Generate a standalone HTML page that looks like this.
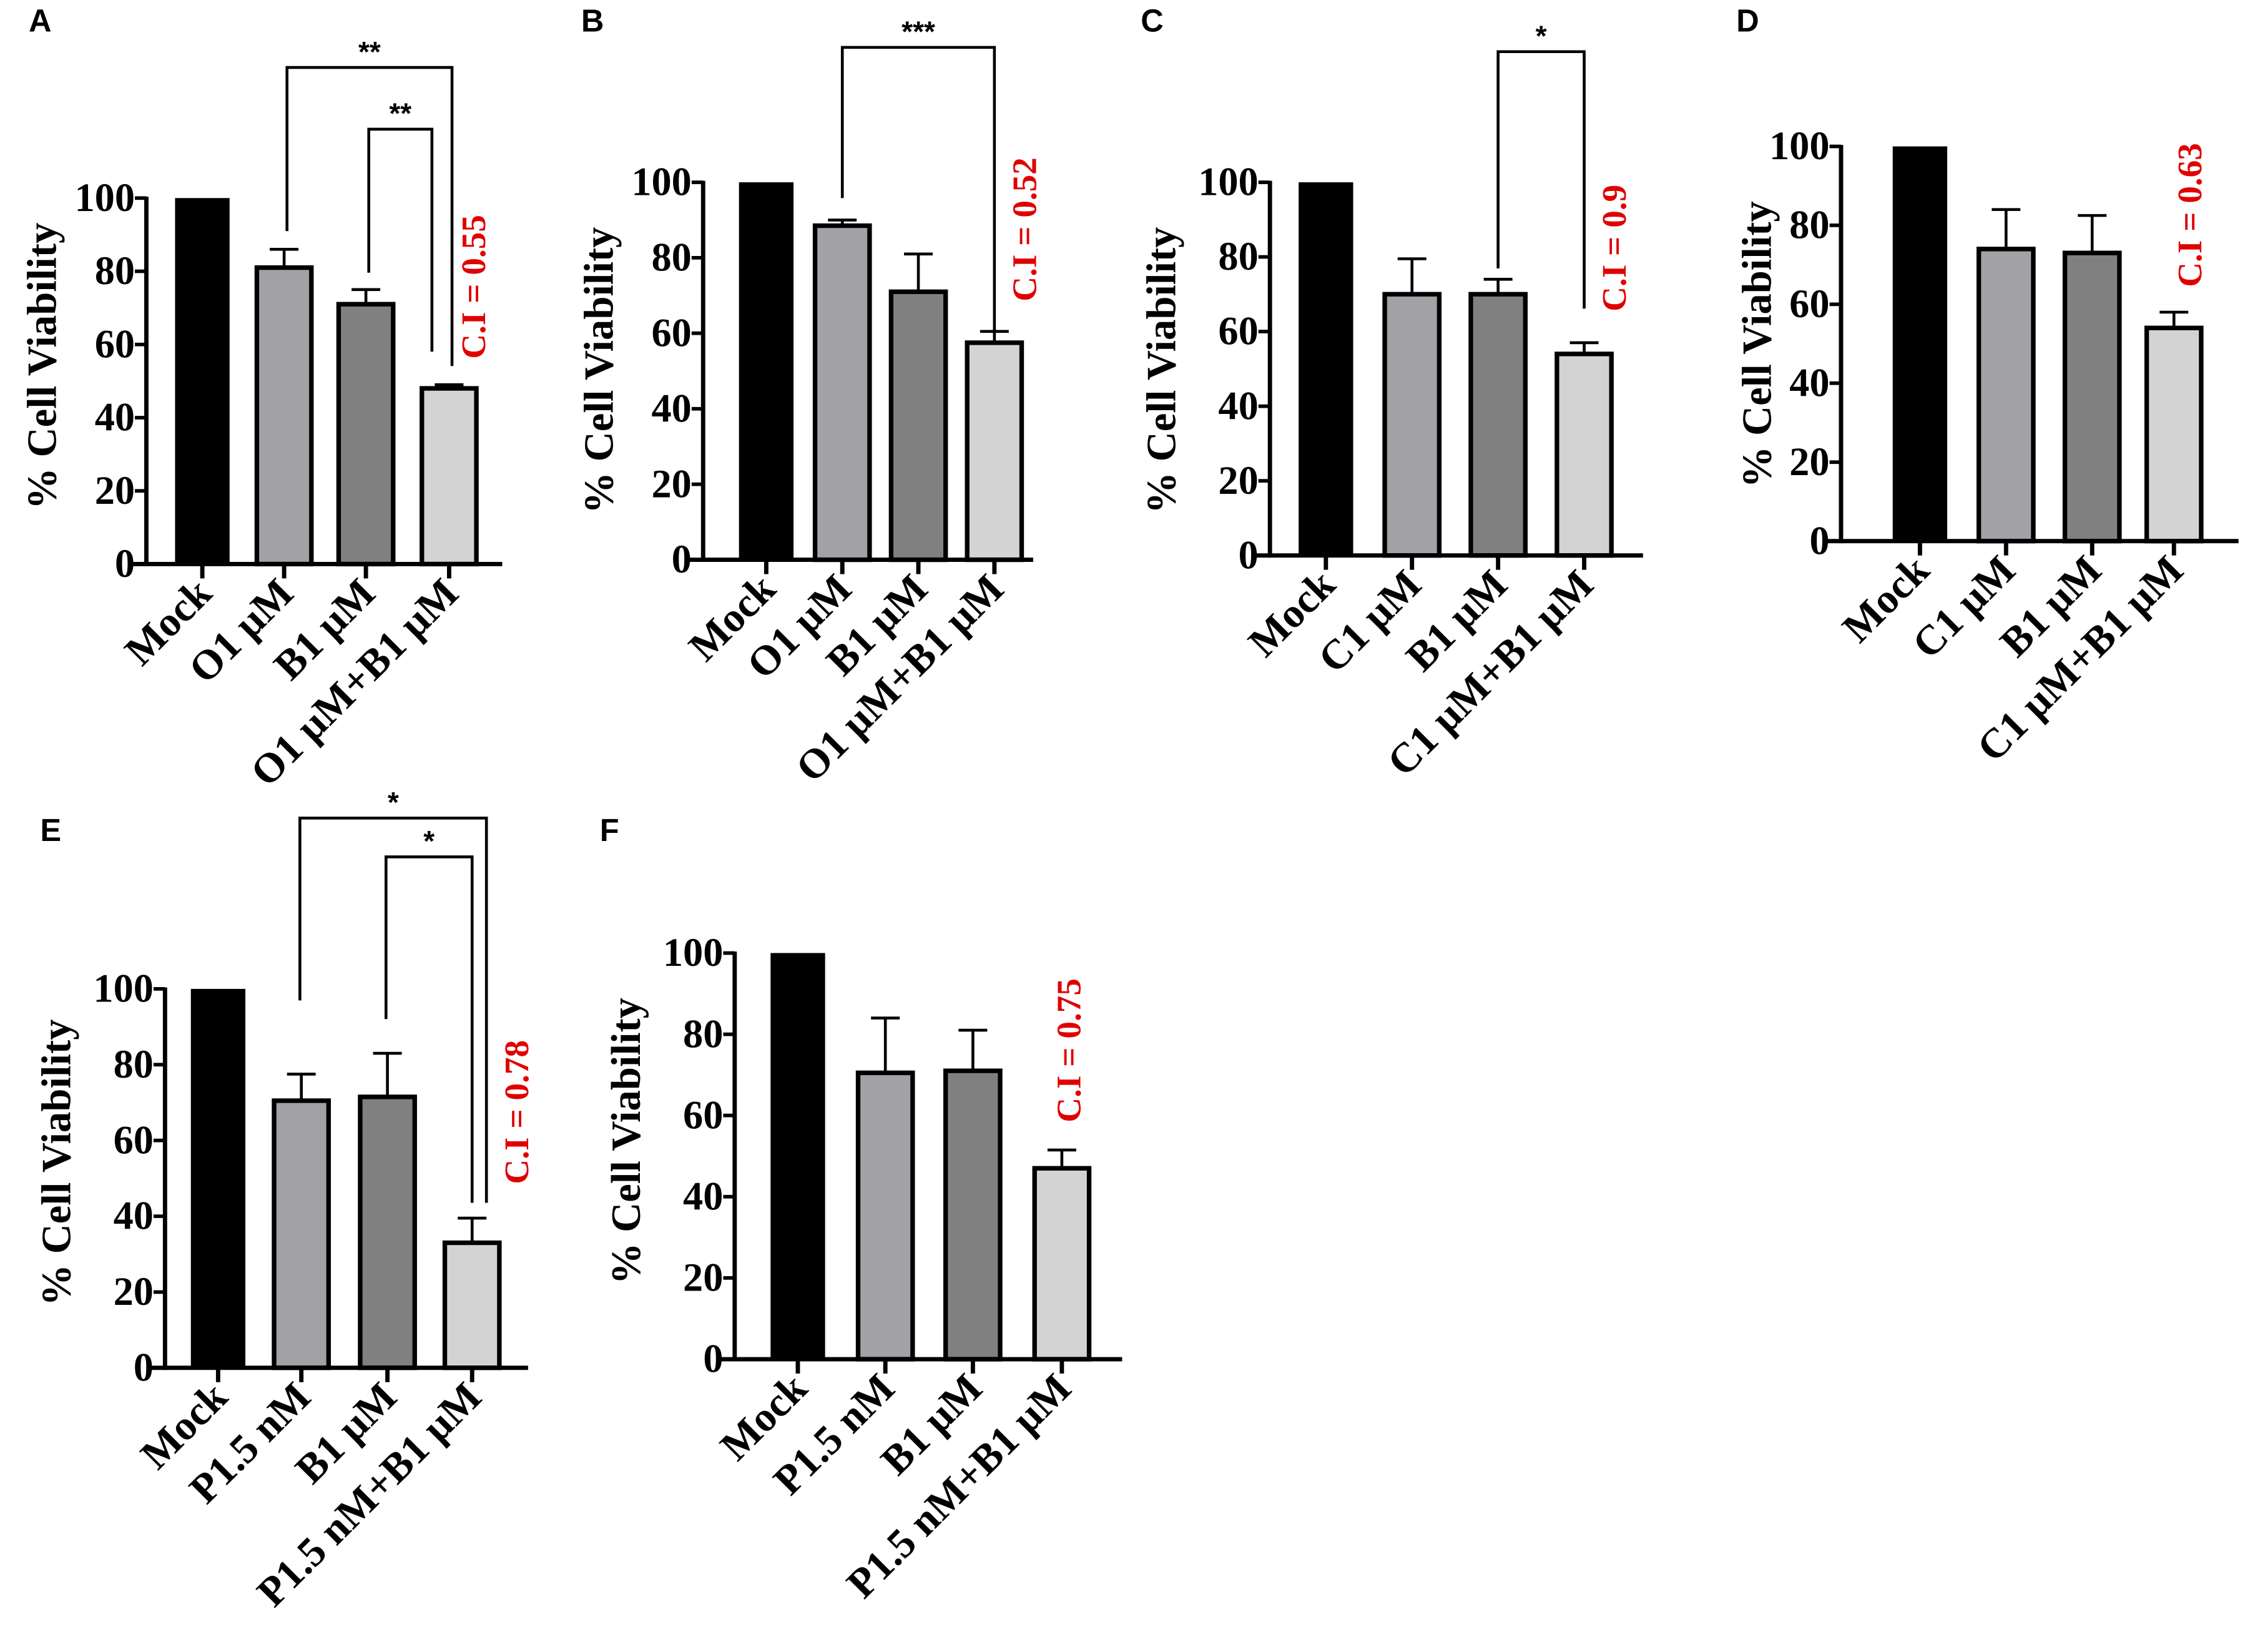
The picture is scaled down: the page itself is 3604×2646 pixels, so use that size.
<!DOCTYPE html>
<html><head><meta charset="utf-8"><title>Cell viability panels</title>
<style>html,body{margin:0;padding:0;background:#fff}svg{display:block}</style></head>
<body>
<svg id="fig" width="3604" height="2646" viewBox="0 0 1568 1151" preserveAspectRatio="none" xmlns="http://www.w3.org/2000/svg" font-family="Liberation Serif, serif"></svg>
<script>
// ---- data ----
const catsA = ["Mock","O1 µM","B1 µM","O1 µM+B1 µM"];
const valsA = [100, 81, 71, 48];
const errA  = [0, 86, 75, 49];
const catsB = ["Mock","O1 µM","B1 µM","O1 µM+B1 µM"];
const valsB = [100, 88.5, 71, 57.5];
const errB  = [0, 90, 81, 60.5];
const catsC = ["Mock","C1 µM","B1 µM","C1 µM+B1 µM"];
const valsC = [100, 70, 70, 54];
const errC  = [0, 79.5, 74, 57];
const catsD = ["Mock","C1 µM","B1 µM","C1 µM+B1 µM"];
const valsD = [100, 74, 73, 54];
const errD  = [0, 84, 82.5, 58];
const catsE = ["Mock","P1.5 nM","B1 µM","P1.5 nM+B1 µM"];
const valsE = [100, 70.5, 71.5, 33];
const errE  = [0, 77.5, 83, 39.5];
const catsF = ["Mock","P1.5 nM","B1 µM","P1.5 nM+B1 µM"];
const valsF = [100, 70.5, 71, 47];
const errF  = [0, 84, 81, 51.5];
const yTicks = [0, 20, 40, 60, 80, 100];
const ciLabels = ["C.I = 0.55","C.I = 0.52","C.I = 0.9","C.I = 0.63","C.I = 0.78","C.I = 0.75"];
const colors = ["#000000","#a2a2a6","#808080","#d3d3d3"];

const NS = "http://www.w3.org/2000/svg";
const svg = document.getElementById('fig');
function mk(tag, attrs, parent, text){
  const e = document.createElementNS(NS, tag);
  for (const k in attrs) e.setAttribute(k, attrs[k]);
  if (text !== undefined) e.textContent = text;
  (parent||svg).appendChild(e); return e;
}
const panels = [
 {id:'a', cats:catsA, vals:valsA, err:errA, ax:102, y0:393, y100:138, cx:[141,198,255,313], xend:350, ci:[330,250], letter:['A',20,22], title:[30,255],
  brackets:[{x1:200,y1a:161,x2:315,y2a:255,top:47,star:'**'},{x1:257,y1a:190,x2:301,y2a:245,top:90,star:'**'}]},
 {id:'b', cats:catsB, vals:valsB, err:errB, ax:490, y0:390, y100:127, cx:[534,587,640,693], xend:720, ci:[714,210], letter:['B',405,22], title:[418,258],
  brackets:[{x1:587,y1a:138,x2:693,y2a:230,top:33,star:'***'}]},
 {id:'c', cats:catsC, vals:valsC, err:errC, ax:885, y0:387, y100:127, cx:[924,984,1044,1104], xend:1145, ci:[1125,217], letter:['C',795,22], title:[810,258],
  brackets:[{x1:1044,y1a:187,x2:1104,y2a:215,top:36,star:'*'}]},
 {id:'d', cats:catsD, vals:valsD, err:errD, ax:1283, y0:377, y100:102, cx:[1338,1398,1458,1515], xend:1560, ci:[1526,200], letter:['D',1210,22], title:[1225,240],
  brackets:[]},
 {id:'e', cats:catsE, vals:valsE, err:errE, ax:115, y0:953, y100:689, cx:[152,210,270,329], xend:368, ci:[360,825], letter:['E',28,586], title:[40,810],
  brackets:[{x1:209,y1a:697,x2:339,y2a:838,top:570,star:'*'},{x1:269,y1a:710,x2:329,y2a:838,top:597,star:'*'}]},
 {id:'f', cats:catsF, vals:valsF, err:errF, ax:512, y0:947, y100:664, cx:[556,617,678,740], xend:782, ci:[745,782], letter:['F',418,586], title:[437,795],
  brackets:[]}
];
const bw = 38;
panels.forEach((p, pi) => {
  const g = mk('g', {});
  
  
  const y = v => p.y0 + (p.y100 - p.y0) * v / 100;
  const L = mk('text', {x:p.letter[1], y:p.letter[2], 'font-family':'Liberation Sans, sans-serif','font-weight':'bold','font-size':22}, g, p.letter[0]);
  
  
  p.vals.forEach((v, i) => {
    const c = p.cx[i];
    const r = mk('rect', {x:c-bw/2, y:y(v), width:bw, height:p.y0-y(v), fill:colors[i], stroke:'#000','stroke-width': i===0?0:3.2}, g);
    
    
    if (p.err[i] > v) {
      const e = mk('path', {d:`M${c},${y(v)} V${y(p.err[i])} M${c-10},${y(p.err[i])} H${c+10}`, stroke:'#000','stroke-width':2, fill:'none'}, g);
      
      
    }
    mk('line', {x1:c, x2:c, y1:p.y0, y2:p.y0+10, stroke:'#000','stroke-width':3}, g);
    const t = mk('text', {x:0, y:0, 'font-weight':'bold','font-size':29,'text-anchor':'end', transform:`translate(${c+8},${p.y0+22}) rotate(-45)`}, g, p.cats[i]);
    
    
  });
  const ya = mk('line', {x1:p.ax, x2:p.ax, y1:p.y100-1, y2:p.y0+1.5, stroke:'#000','stroke-width':3}, g);
  
  
  const xa = mk('line', {x1:p.ax-10, x2:p.xend, y1:p.y0, y2:p.y0, stroke:'#000','stroke-width':3}, g);
  
  
  yTicks.forEach(tv => {
    mk('line', {x1:p.ax-8, x2:p.ax, y1:y(tv), y2:y(tv), stroke:'#000','stroke-width':2.5}, g);
    const tl = mk('text', {x:p.ax-8, y:y(tv)+9, 'font-weight':'bold','font-size':28,'text-anchor':'end'}, g, String(tv));
    
    
  });
  const yt = mk('text', {x:0, y:0, 'font-weight':'bold','font-size':29,'text-anchor':'middle', transform:`translate(${p.title[0]+9},${p.title[1]}) rotate(-90)`}, g, '% Cell Viability');
  
  
  const ci = mk('text', {x:0, y:0, 'font-weight':'bold','font-size':24, fill:'#e00000', transform:`translate(${p.ci[0]+8},${p.ci[1]}) rotate(-90)`}, g, ciLabels[pi]);
  
  
  p.brackets.forEach(b => {
    const br = mk('path', {d:`M${b.x1},${b.y1a} V${b.top} H${b.x2} V${b.y2a}`, stroke:'#000','stroke-width':2, fill:'none'}, g);
    
    
    const s = mk('text', {x:(b.x1+b.x2)/2, y:b.top-4, 'font-family':'Liberation Sans, sans-serif','font-weight':'bold','font-size':20,'text-anchor':'middle'}, g, b.star);
    
    
  });
});
</script>
</body></html>
